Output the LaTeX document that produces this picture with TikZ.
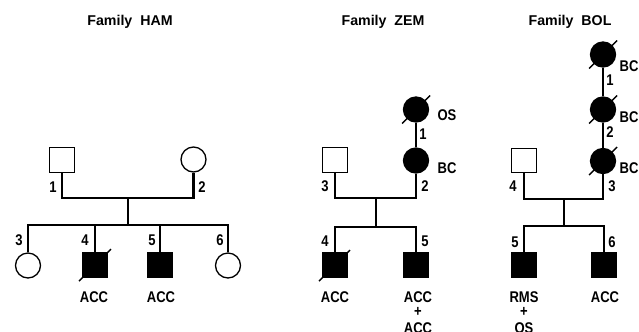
\documentclass[tikz,border=0pt]{standalone}
\usepackage{fontspec}
\setmainfont{Liberation Sans}
\newfontfamily\condfont[FakeStretch=0.84]{Liberation Sans}
\begin{document}
\begin{tikzpicture}[x=1bp,y=-1bp,
  lbl/.style={font=\condfont\fontsize{15.5bp}{17bp}\selectfont\bfseries, inner sep=0, anchor=base},
  ttl/.style={font=\fontsize{14.2bp}{16bp}\selectfont\bfseries, inner sep=0, anchor=base},
  sq/.style={draw, rectangle, minimum size=24.5bp, inner sep=0, line width=1.3bp},
  ci/.style={draw, circle, minimum size=25bp, inner sep=0, line width=1.3bp},
  aff/.style={fill=black},
  ln/.style={line width=2.3bp},
  dec/.style={line width=1.4bp}]
\useasboundingbox (0,0) rectangle (639,331);

% ---------------- Family HAM ----------------
\node[ttl] (tham) at (130,25) {Family\ \ HAM};
\node[sq] (h1) at (62,160) {};
\node[ci] (h2) at (193.5,159.5) {};
\node[ci] (h3) at (28,265.5) {};
\node[sq,aff] (h4) at (95,265) {};
\node[sq,aff] (h5) at (160,265) {};
\node[ci] (h6) at (228,265.5) {};
\coordinate (hmate) at (128,198);
\coordinate (hsib) at (128,225);
\draw[ln] (h1.south) |- (hmate) -| (h2.south);
\draw[ln] (hmate) -- (hsib);
\draw[ln] (h3.north) |- (hsib) -| (h6.north);
\draw[ln] (h4.north) -- (h4.north |- hsib);
\draw[ln] (h5.north) -- (h5.north |- hsib);
\draw[dec] ([shift={(-16,16)}]h4.center) -- ([shift={(16,-16)}]h4.center);
\node[lbl] (n1) at (53,192) {1};
\node[lbl] (n2) at (202,192) {2};
\node[lbl] (n3) at (19,245) {3};
\node[lbl] (n4) at (85,245) {4};
\node[lbl] (n5) at (152,245) {5};
\node[lbl] (n6) at (220,245) {6};
\node[lbl] (a4) at (94,302) {ACC};
\node[lbl] (a5) at (161,302) {ACC};

% ---------------- Family ZEM ----------------
\node[ttl] (tzem) at (383,25) {Family\ \ ZEM};
\node[ci,aff] (z1) at (416,109.5) {};
\node[ci,aff] (z2) at (416,160.5) {};
\node[sq] (z3) at (335,160) {};
\node[sq,aff] (z4) at (335,265) {};
\node[sq,aff] (z5) at (416,265) {};
\coordinate (zmate) at (376,198);
\coordinate (zsib) at (376,227);
\draw[ln] (z1.south) -- (z2.north);
\draw[ln] (z3.south) |- (zmate) -| (z2.south);
\draw[ln] (zmate) -- (zsib);
\draw[ln] (z4.north) |- (zsib) -| (z5.north);
\draw[dec] ([shift={(-14,14)}]z1.center) -- ([shift={(14,-14)}]z1.center);
\draw[dec] ([shift={(-16,16)}]z4.center) -- ([shift={(15,-15)}]z4.center);
\node[lbl] (zos) at (447,120) {OS};
\node[lbl] (zn1) at (423,139) {1};
\node[lbl] (zbc) at (447,173) {BC};
\node[lbl] (zn2) at (425,191) {2};
\node[lbl] (zn3) at (325,191) {3};
\node[lbl] (zn4) at (325,246) {4};
\node[lbl] (zn5) at (425,246) {5};
\node[lbl] (za4) at (335,302) {ACC};
\node[lbl] (za5) at (418,302) {ACC};
\node[lbl] (zp) at (418,316) {+};
\node[lbl] (za5b) at (418,333) {ACC};

% ---------------- Family BOL ----------------
\node[ttl] (tbol) at (570,25) {Family\ \ BOL};
\node[ci,aff] (b1) at (603,54.5) {};
\node[ci,aff] (b2) at (603,109.5) {};
\node[ci,aff] (b3) at (603,161) {};
\node[sq] (b4) at (524,160.5) {};
\node[sq,aff] (b5) at (524,265) {};
\node[sq,aff] (b6) at (604,265) {};
\coordinate (bmate) at (564,199);
\coordinate (bsib) at (564,226);
\draw[ln] (b1.south) -- (b2.north);
\draw[ln] (b2.south) -- (b3.north);
\draw[ln] (b4.south) |- (bmate) -| (b3.south);
\draw[ln] (bmate) -- (bsib);
\draw[ln] (b5.north) |- (bsib) -| (b6.north);
\draw[dec] ([shift={(-14,14)}]b1.center) -- ([shift={(14,-14)}]b1.center);
\draw[dec] ([shift={(-14,14)}]b2.center) -- ([shift={(14,-14)}]b2.center);
\draw[dec] ([shift={(-14,14)}]b3.center) -- ([shift={(14,-14)}]b3.center);
\node[lbl,anchor=base west] (bbc1) at (619.5,71) {BC};
\node[lbl] (bn1) at (610,85) {1};
\node[lbl,anchor=base west] (bbc2) at (619.5,122) {BC};
\node[lbl] (bn2) at (610,137) {2};
\node[lbl,anchor=base west] (bbc3) at (619.5,173) {BC};
\node[lbl] (bn3) at (612,191) {3};
\node[lbl] (bn4) at (513,191) {4};
\node[lbl] (bn5) at (515,247) {5};
\node[lbl] (bn6) at (612,247) {6};
\node[lbl] (br5) at (524,302) {RMS};
\node[lbl] (bp) at (524,316) {+};
\node[lbl] (bos) at (524,333) {OS};
\node[lbl] (ba6) at (605,302) {ACC};
\end{tikzpicture}
\end{document}
